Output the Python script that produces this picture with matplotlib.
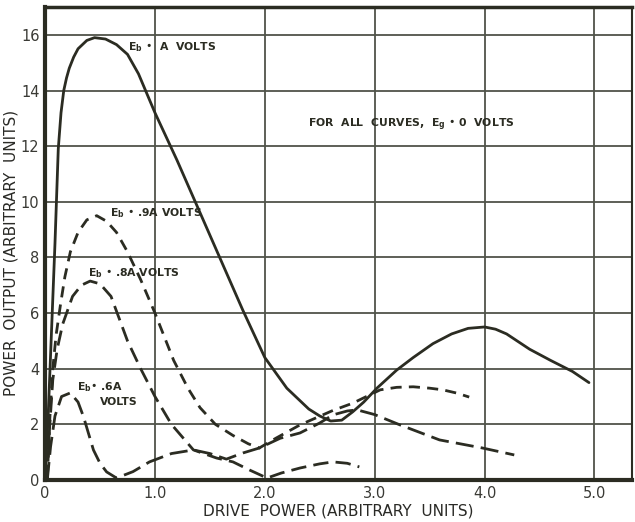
import matplotlib
matplotlib.use("Agg")
import matplotlib.pyplot as plt

# curve data (drive power, power output)
x_a = [0.0, 0.03, 0.06, 0.09, 0.12, 0.145, 0.17, 0.195, 0.22, 0.26, 0.3, 0.38, 0.45, 0.55, 0.65,
       0.75, 0.85, 1.0, 1.2, 1.4, 1.6, 1.8, 2.0, 2.2, 2.4, 2.5, 2.6, 2.7, 2.8, 2.9, 3.02, 3.2,
       3.35, 3.53, 3.7, 3.85, 4.0, 4.1, 4.2, 4.41, 4.6, 4.8, 4.95]
y_a = [0.0, 2.5, 5.5, 8.5, 11.9, 13.2, 14.0, 14.45, 14.8, 15.2, 15.5, 15.8, 15.9, 15.85, 15.65,
       15.3, 14.6, 13.2, 11.5, 9.7, 7.9, 6.1, 4.4, 3.3, 2.55, 2.3, 2.12, 2.15, 2.45, 2.8, 3.3, 3.95,
       4.4, 4.9, 5.25, 5.45, 5.5, 5.42, 5.25, 4.7, 4.3, 3.9, 3.5]

x_09 = [0.02, 0.04, 0.07, 0.1, 0.14, 0.18, 0.23, 0.3, 0.38, 0.47, 0.56, 0.65, 0.75, 0.87, 1.0,
        1.17, 1.3, 1.41, 1.55, 1.71, 1.85, 1.95, 2.1, 2.32, 2.62, 2.8, 3.05, 3.2, 3.35, 3.5, 3.62,
        3.75, 3.86]
y_09 = [0.0, 2.0, 4.0, 5.2, 6.3, 7.3, 8.2, 8.9, 9.35, 9.5, 9.3, 8.9, 8.2, 7.2, 6.0,
        4.3, 3.3, 2.6, 2.0, 1.6, 1.3, 1.15, 1.5, 1.98, 2.5, 2.76, 3.24, 3.33, 3.35, 3.3, 3.24,
        3.12, 2.98]

x_08 = [0.02, 0.04, 0.07, 0.11, 0.16, 0.25, 0.33, 0.41, 0.5, 0.6, 0.75, 0.87, 1.0, 1.15, 1.35,
        1.56, 1.71, 1.86, 2.02, 2.15, 2.32, 2.5, 2.62, 2.75, 2.86]
y_08 = [0.0, 1.8, 3.6, 4.7, 5.6, 6.6, 7.0, 7.15, 7.05, 6.6, 5.0, 4.0, 3.0, 2.0, 1.08,
        0.79, 0.65, 0.36, 0.07, 0.25, 0.43, 0.58, 0.65, 0.6, 0.47]

x_06 = [0.02, 0.05, 0.09, 0.15, 0.23, 0.3, 0.35, 0.44, 0.5, 0.56, 0.65, 0.8, 0.95, 1.15, 1.35,
        1.5, 1.65, 1.8, 1.95, 2.14, 2.32, 2.5, 2.62, 2.75, 2.84, 3.0, 3.23, 3.59, 3.98, 4.27]
y_06 = [0.0, 1.2, 2.3, 3.0, 3.13, 2.8, 2.27, 1.08, 0.6, 0.29, 0.07, 0.3, 0.65, 0.95, 1.08,
        0.95, 0.75, 0.97, 1.15, 1.5, 1.69, 2.05, 2.34, 2.48, 2.52, 2.35, 1.98, 1.44, 1.15, 0.9]

x_ticks = [0, 1, 2, 3, 4, 5]
x_labels = ["0", "1.0", "2.0", "3.0", "4.0", "5.0"]
y_ticks = [0, 2, 4, 6, 8, 10, 12, 14, 16]

INK = "#2b2c22"
GRID = "#50534a"

fig = plt.figure(figsize=(6.35, 5.22), dpi=100)
ax = fig.add_axes([0.071, 0.0805, 0.924, 0.906])
ax.set_xlim(0, 5.34)
ax.set_ylim(0, 17.0)

ax.plot(x_a, y_a, color=INK, lw=2.0, solid_capstyle="round", solid_joinstyle="round")
ax.plot(x_09, y_09, color=INK, lw=2.0, dashes=(4, 2.6))
ax.plot(x_08, y_08, color=INK, lw=2.0, dashes=(5.5, 2.6))
ax.plot(x_06, y_06, color=INK, lw=2.0, dashes=(6.5, 2.6))

ax.set_xticks(x_ticks); ax.set_xticklabels(x_labels)
ax.set_yticks(y_ticks)
ax.grid(True, color=GRID, lw=1.3)
ax.set_axisbelow(True)
ax.tick_params(length=0, labelsize=10.5, labelcolor="#3a3a35", pad=4)

for side, lw in [("left", 3.0), ("bottom", 3.0), ("top", 2.5), ("right", 1.5)]:
    ax.spines[side].set_linewidth(lw)
    ax.spines[side].set_color(INK)

ax.set_xlabel("DRIVE  POWER (ARBITRARY  UNITS)", fontsize=11, color="#2a2a26", labelpad=2)
ax.set_ylabel("POWER  OUTPUT (ARBITRARY  UNITS)", fontsize=11, color="#2a2a26", labelpad=2)
ax.yaxis.set_label_coords(-0.045, 0.48)

kw = dict(fontsize=7.8, fontweight="bold", color=INK, va="center", ha="left")
ax.text(0.755, 15.55, r"E$_{\bf b}$ •  A  VOLTS", **kw)
ax.text(0.59, 9.6, r"E$_{\bf b}$ • .9A VOLTS", **kw)
ax.text(0.39, 7.45, r"E$_{\bf b}$ • .8A VOLTS", **kw)
ax.text(0.29, 3.35, r"E$_{\bf b}$• .6A", **kw)
ax.text(0.5, 2.8, "VOLTS", **kw)
ax.text(2.39, 12.77, r"FOR  ALL  CURVES,  E$_{\bf g}$ • 0  VOLTS", **kw)

fig.savefig("out.png", dpi=100)
